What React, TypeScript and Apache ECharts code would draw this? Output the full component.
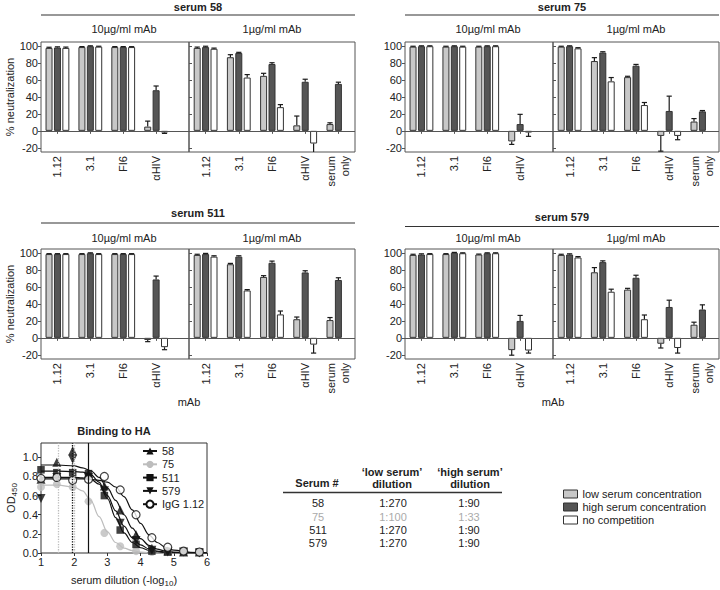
import React, { useEffect, useRef } from 'react';
import * as echarts from 'echarts';

const FONT = '"Liberation Sans", Arial, Helvetica, sans-serif';
const TXT = '#222';

// ---------- neutralization panels ----------
const mAbs10 = ['1.12', '3.1', 'FI6', 'αHIV'];
const mAbs1 = ['1.12', '3.1', 'FI6', 'αHIV', 'serum\nonly'];
const conditions = ['low serum concentration', 'high serum concentration', 'no competition'];
const neutTicks = [-20, 0, 20, 40, 60, 80, 100];

// serum 58
const s58_10_low = [98, 99, 99, 5];
const s58_10_high = [98.5, 100, 99, 48];
const s58_10_none = [98, 99.5, 99, -2];
const s58_10_lowErr = [0.8, 0.6, 0.6, 6.5];
const s58_10_highErr = [0.8, 0.5, 0.6, 5];
const s58_10_noneErr = [1, 0.5, 0.5, 1];
const s58_1_low = [98, 87, 65, 6.5, 8];
const s58_1_high = [99, 92, 79, 58, 55.5];
const s58_1_none = [97, 63, 28, -15, null];
const s58_1_lowErr = [1, 3, 3, 11, 1.5];
const s58_1_highErr = [1, 0.8, 1.5, 3, 2];
const s58_1_noneErr = [0.8, 3.5, 3, 11, null];

// serum 75
const s75_10_low = [99.5, 99.5, 99.5, -12.5];
const s75_10_high = [100, 100, 100, 8];
const s75_10_none = [100, 99.5, 100, -2];
const s75_10_lowErr = [0.5, 0.5, 0.5, 3.5];
const s75_10_highErr = [0.5, 0.5, 0.5, 11.5];
const s75_10_noneErr = [0.5, 0.5, 0.5, 4.5];
const s75_1_low = [99.5, 82.5, 63.5, -6, 11];
const s75_1_high = [100, 92.5, 77, 23.5, 23];
const s75_1_none = [97.5, 58.5, 30.5, -6, null];
const s75_1_lowErr = [0.5, 4, 1, 18, 3.5];
const s75_1_highErr = [0.5, 1, 1.5, 17.5, 1];
const s75_1_noneErr = [0.8, 4.5, 3, 4.5, null];

// serum 511
const s511_10_low = [99, 99, 99, -2.5];
const s511_10_high = [99, 100, 99, 69];
const s511_10_none = [99, 99, 99, -11];
const s511_10_lowErr = [0.5, 0.5, 0.5, 2];
const s511_10_highErr = [0.5, 0.5, 0.5, 4];
const s511_10_noneErr = [0.5, 0.5, 0.5, 3];
const s511_1_low = [98, 87, 72, 22, 21];
const s511_1_high = [99, 96, 88.7, 77.3, 68.4];
const s511_1_none = [96, 56, 27.7, -8, null];
const s511_1_lowErr = [0.8, 1, 1.5, 2.6, 3];
const s511_1_highErr = [0.8, 1, 2, 2, 2.6];
const s511_1_noneErr = [1, 1, 4, 10, null];

// serum 579
const s579_10_low = [98, 99, 98.5, -14.5];
const s579_10_high = [98.5, 100.5, 100, 20];
const s579_10_none = [99, 100, 100, -15];
const s579_10_lowErr = [0.8, 0.5, 0.5, 6];
const s579_10_highErr = [0.8, 0.5, 0.5, 6.5];
const s579_10_noneErr = [0.5, 0.5, 0.5, 3];
const s579_1_low = [98, 77.5, 57, -7, 15.5];
const s579_1_high = [98.5, 89.5, 71, 36.5, 33.5];
const s579_1_none = [95, 54.5, 22, -12, null];
const s579_1_lowErr = [0.8, 5.5, 1.5, 5, 3];
const s579_1_highErr = [0.8, 1.5, 3, 8, 5.5];
const s579_1_noneErr = [1, 3, 5, 6, null];

const panels = [
  { title: 'serum 58', col: 0, row: 0,
    v10: [s58_10_low, s58_10_high, s58_10_none], e10: [s58_10_lowErr, s58_10_highErr, s58_10_noneErr],
    v1: [s58_1_low, s58_1_high, s58_1_none], e1: [s58_1_lowErr, s58_1_highErr, s58_1_noneErr] },
  { title: 'serum 75', col: 1, row: 0,
    v10: [s75_10_low, s75_10_high, s75_10_none], e10: [s75_10_lowErr, s75_10_highErr, s75_10_noneErr],
    v1: [s75_1_low, s75_1_high, s75_1_none], e1: [s75_1_lowErr, s75_1_highErr, s75_1_noneErr] },
  { title: 'serum 511', col: 0, row: 1,
    v10: [s511_10_low, s511_10_high, s511_10_none], e10: [s511_10_lowErr, s511_10_highErr, s511_10_noneErr],
    v1: [s511_1_low, s511_1_high, s511_1_none], e1: [s511_1_lowErr, s511_1_highErr, s511_1_noneErr] },
  { title: 'serum 579', col: 1, row: 1,
    v10: [s579_10_low, s579_10_high, s579_10_none], e10: [s579_10_lowErr, s579_10_highErr, s579_10_noneErr],
    v1: [s579_1_low, s579_1_high, s579_1_none], e1: [s579_1_lowErr, s579_1_highErr, s579_1_noneErr] },
];

// ---------- binding to HA ----------
const dilutionSteps = [10, 30, 90, 270, 810, 2430, 7290, 21870, 65610, 196830, 590490];
const od58 = [0.77, 0.95, 1.07, 0.83, 0.70, 0.45, 0.19, 0.05, 0.02, 0.01, 0.01];
const od75 = [0.69, 0.72, 0.69, 0.54, 0.21, 0.07, 0.02, 0.01, 0.01, 0.01, 0.0];
const od511 = [0.87, 0.84, 0.84, 0.83, 0.60, 0.24, 0.09, 0.02, 0.01, 0.01, 0.01];
const od579 = [0.57, 0.79, 0.98, 0.79, 0.65, 0.31, 0.13, 0.03, 0.01, 0.01, 0.0];
const odIgG = [0.78, 0.79, 0.76, 0.77, 0.80, 0.66, 0.40, 0.16, 0.06, 0.02, 0.01];

const fitX = [1, 1.5, 2, 2.25, 2.5, 2.75, 3, 3.25, 3.5, 3.75, 4, 4.25, 4.5, 4.75, 5, 5.5, 6];
const fit58 = [0.92, 0.92, 0.91, 0.89, 0.86, 0.79, 0.68, 0.55, 0.40, 0.26, 0.15, 0.08, 0.04, 0.02, 0.01, 0.003, 0.0];
const fit75 = [0.71, 0.71, 0.69, 0.65, 0.55, 0.38, 0.22, 0.11, 0.05, 0.025, 0.01, 0.005, 0.002, 0.001, 0, 0, 0];
const fit511 = [0.855, 0.855, 0.85, 0.845, 0.82, 0.74, 0.57, 0.37, 0.21, 0.11, 0.055, 0.027, 0.013, 0.006, 0.003, 0.001, 0];
const fit579 = [0.79, 0.79, 0.79, 0.785, 0.77, 0.72, 0.60, 0.44, 0.28, 0.16, 0.085, 0.043, 0.02, 0.01, 0.005, 0.001, 0];
const fitIgG = [0.775, 0.775, 0.775, 0.775, 0.77, 0.76, 0.74, 0.69, 0.59, 0.45, 0.31, 0.19, 0.11, 0.06, 0.03, 0.008, 0.002];
const odTicks = [0, 0.2, 0.4, 0.6, 0.8, 1.0];

const bindNames = ['58', '75', '511', '579', 'IgG 1.12'];
const bindPoints = [od58, od75, od511, od579, odIgG];
const bindFits = [fit58, fit75, fit511, fit579, fitIgG];

// ---------- table ----------
const tableSerum = ['58', '75', '511', '579'];
const lowDil = [270, 100, 270, 270];
const highDil = [90, 33, 90, 90];

// ---------- styles ----------
const fills = ['#c8c8c8', '#555555', '#ffffff'];
const bindStyles = [
  { symbol: 'triangle', rot: 0, size: 9, item: { color: '#111' }, line: '#111' },
  { symbol: 'circle', rot: 0, size: 8, item: { color: '#bdbdbd' }, line: '#bdbdbd' },
  { symbol: 'rect', rot: 0, size: 7.5, item: { color: '#111' }, line: '#111' },
  { symbol: 'triangle', rot: 180, size: 9, item: { color: '#111' }, line: '#111' },
  { symbol: 'circle', rot: 0, size: 8, item: { color: '#fff', borderColor: '#111', borderWidth: 1.2 }, line: '#111' },
];
const colLeft = [41, 405];
const rowTop = [42, 249];
const titleY = [[7, 7], [213, 217]];
const ruleY = [[15, 15], [223, 226.5]];
const subY = [29, 238];

const BAR_W = 7;
const BAR_STEP = 8.4;

function errorRender(params: any, api: any) {
  const x = api.value(0);
  const v = api.value(1);
  const e = api.value(2);
  const c = api.value(3);
  const p0 = api.coord([x, v]);
  const p1 = api.coord([x, v >= 0 ? v + e : v - e]);
  const dx = (c - 1) * BAR_STEP;
  const cx = p0[0] + dx;
  const st = { stroke: '#1a1a1a', lineWidth: 1.2 };
  return {
    type: 'group',
    children: [
      { type: 'line', shape: { x1: cx, y1: p0[1], x2: cx, y2: p1[1] }, style: st },
      { type: 'line', shape: { x1: cx - 2.6, y1: p1[1], x2: cx + 2.6, y2: p1[1] }, style: st },
    ],
  };
}

const txt = (text: string, x: number, y: number, extra: any = {}) => ({
  type: 'text', x, y, silent: true,
  style: { text, fontSize: 11, fontFamily: FONT, fill: TXT, align: 'center', verticalAlign: 'middle', ...extra },
});
const hline = (x1: number, x2: number, y: number, w = 1, color = '#333') => ({
  type: 'line', silent: true, shape: { x1, y1: y, x2, y2: y }, style: { stroke: color, lineWidth: w },
});

function buildOption() {
  const grid: any[] = [];
  const xAxis: any[] = [];
  const yAxis: any[] = [];
  const series: any[] = [];
  const graphic: any[] = [];

  panels.forEach((p, pi) => {
    const left0 = colLeft[p.col];
    const top = rowTop[p.row];
    graphic.push(txt(p.title, left0 + 157, titleY[p.row][p.col], { fontWeight: 'bold' }));
    graphic.push(hline(left0, left0 + 314, ruleY[p.row][p.col], 1.2));
    graphic.push(txt('10µg/ml mAb', left0 + 83, subY[p.row]));
    graphic.push(txt('1µg/ml mAb', left0 + 231, subY[p.row]));
    if (p.row === 1) graphic.push(txt('mAb', left0 + 148, 402));

    [0, 1].forEach((s) => {
      const gi = pi * 2 + s;
      const labels = s === 0 ? mAbs10 : mAbs1;
      const centers = labels.map((_, i) => i + 0.5);
      const vals = s === 0 ? p.v10 : p.v1;
      const errs = s === 0 ? p.e10 : p.e1;
      grid.push({
        left: s === 0 ? left0 : left0 + 148, top, width: s === 0 ? 148 : 166, height: 110,
        show: true, borderColor: '#555', borderWidth: 1, containLabel: false, outerBoundsMode: 'none',
      });
      xAxis.push({
        gridIndex: gi, type: 'value', min: 0, max: s === 0 ? 4.5 : 5,
        axisLine: { show: false }, splitLine: { show: false },
        axisTick: { show: true, customValues: centers, length: 3, lineStyle: { color: '#555' } },
        axisLabel: {
          customValues: centers, formatter: (v: number) => labels[Math.floor(v)] ?? '',
          rotate: 90, fontSize: 11, lineHeight: 14, margin: 4, color: TXT, fontFamily: FONT,
        },
      });
      yAxis.push({
        gridIndex: gi, type: 'value', min: -25, max: 105,
        axisLine: { show: false }, splitLine: { show: false },
        axisTick: { show: true, inside: s === 1, length: 3, customValues: neutTicks, lineStyle: { color: '#555' } },
        axisLabel: { show: s === 0, customValues: neutTicks, fontSize: 11, margin: 3, color: TXT, fontFamily: FONT },
        name: s === 0 && p.col === 0 ? '% neutralization' : '',
        nameLocation: 'middle', nameGap: 22,
        nameTextStyle: { fontSize: 11, fontFamily: FONT, color: TXT },
      });
      vals.forEach((arr: any[], c: number) => {
        const d: any[] = [];
        arr.forEach((v, i) => { if (v !== null) d.push([i + 0.5, v]); });
        series.push({
          type: 'bar', name: conditions[c], xAxisIndex: gi, yAxisIndex: gi,
          barWidth: BAR_W, barGap: '20%', data: d, silent: true,
          itemStyle: { color: fills[c], borderColor: '#333', borderWidth: 1 },
          markLine: c === 0 ? {
            silent: true, symbol: 'none', label: { show: false },
            lineStyle: { color: '#555', width: 1, type: 'solid' }, data: [{ yAxis: 0 }],
          } : undefined,
        });
      });
      const eb: any[] = [];
      vals.forEach((arr: any[], c: number) => arr.forEach((v, i) => {
        if (v !== null) eb.push([i + 0.5, v, errs[c][i], c]);
      }));
      series.push({
        type: 'custom', xAxisIndex: gi, yAxisIndex: gi, renderItem: errorRender, data: eb,
        encode: { x: 0, y: 1 }, z: 5, silent: true, clip: true,
      });
    });
  });

  // binding chart
  const bi = panels.length * 2;
  grid.push({ left: 41, top: 443, width: 166, height: 110, show: true, borderColor: '#333', borderWidth: 1, containLabel: false, outerBoundsMode: 'none' });
  const rich = {
    n: { fontSize: 11, fontFamily: FONT, color: TXT, lineHeight: 13, verticalAlign: 'top' },
    s: { fontSize: 8, fontFamily: FONT, color: TXT, lineHeight: 8, padding: [6, 0, 0, 0], verticalAlign: 'bottom' },
  };
  xAxis.push({
    gridIndex: bi, type: 'value', min: 1, max: 6, interval: 1,
    axisLine: { show: false }, splitLine: { show: false },
    axisTick: { length: 3, lineStyle: { color: '#333' } },
    axisLabel: { fontSize: 11, margin: 3, color: TXT, fontFamily: FONT },
    name: '{n|serum dilution (-log}{s|10}{n|)}', nameLocation: 'middle', nameGap: 21,
    nameTextStyle: { rich },
  });
  yAxis.push({
    gridIndex: bi, type: 'value', min: 0, max: 1.15,
    axisLine: { show: false }, splitLine: { show: false },
    axisTick: { length: 3, customValues: odTicks, lineStyle: { color: '#333' } },
    axisLabel: { customValues: odTicks, formatter: (v: number) => v.toFixed(1), fontSize: 11, margin: 3, color: TXT, fontFamily: FONT },
    name: '{n|OD}{s|450}', nameLocation: 'middle', nameGap: 16,
    nameTextStyle: { rich },
  });
  bindNames.forEach((name, k) => {
    const st = bindStyles[k];
    series.push({
      type: 'line', name, xAxisIndex: bi, yAxisIndex: bi,
      data: fitX.map((x, i) => [x, bindFits[k][i]]),
      smooth: 0.35, smoothMonotone: 'x', showSymbol: false,
      symbol: st.symbol, symbolSize: st.size, symbolRotate: st.rot,
      itemStyle: st.item, lineStyle: { color: st.line, width: 1.2 }, z: 3, silent: true,
      markLine: k === 0 ? {
        silent: true, symbol: 'none', label: { show: false },
        data: [
          { xAxis: Math.log10(highDil[1]), lineStyle: { color: '#bbb', type: 'dotted', width: 1.3 } },
          { xAxis: Math.log10(lowDil[1]), lineStyle: { color: '#bbb', type: 'dotted', width: 1.3 } },
          { xAxis: Math.log10(highDil[0]), lineStyle: { color: '#111', type: 'dotted', width: 1.3 } },
          { xAxis: Math.log10(lowDil[0]), lineStyle: { color: '#111', type: 'solid', width: 1.2 } },
        ],
      } : undefined,
    });
  });
  bindNames.forEach((name, k) => {
    const st = bindStyles[k];
    series.push({
      type: 'scatter', name, xAxisIndex: bi, yAxisIndex: bi,
      data: dilutionSteps.map((d, i) => [Math.log10(d), bindPoints[k][i]]),
      symbol: st.symbol, symbolSize: st.size, symbolRotate: st.rot,
      itemStyle: st.item, z: 4, silent: true,
    });
  });
  graphic.push(txt('Binding to HA', 114, 431, { fontWeight: 'bold' }));

  // table
  graphic.push(txt('Serum #', 317, 483, { fontWeight: 'bold' }));
  graphic.push(txt('‘low serum’', 392, 471.5, { fontWeight: 'bold' }));
  graphic.push(txt('dilution', 392, 484, { fontWeight: 'bold' }));
  graphic.push(txt('‘high serum’', 470, 471.5, { fontWeight: 'bold' }));
  graphic.push(txt('dilution', 470, 484, { fontWeight: 'bold' }));
  graphic.push(hline(283, 502, 492.5, 1.6, '#333'));
  const rowYs = [503, 516.5, 530, 543];
  tableSerum.forEach((s, i) => {
    const color = s === '75' ? '#aaa' : TXT;
    graphic.push(txt(s, 318, rowYs[i], { fill: color }));
    graphic.push(txt('1:' + lowDil[i], 393, rowYs[i], { fill: color }));
    graphic.push(txt('1:' + highDil[i], 469, rowYs[i], { fill: color }));
  });

  return {
    animation: false,
    backgroundColor: '#fff',
    textStyle: { fontFamily: FONT },
    grid, xAxis, yAxis, series, graphic,
    legend: [
      {
        data: bindNames, orient: 'vertical', left: 142, top: 445.5, padding: 0,
        itemWidth: 14, itemHeight: 9, itemGap: 2.3, selectedMode: false,
        textStyle: { fontSize: 11, fontFamily: FONT, color: TXT },
      },
      {
        data: conditions, orient: 'vertical', left: 563, top: 488.5, padding: 0, icon: 'rect',
        itemWidth: 14, itemHeight: 8, itemGap: 2, selectedMode: false,
        itemStyle: { borderColor: '#333', borderWidth: 1 },
        textStyle: { fontSize: 11, fontFamily: FONT, color: TXT },
      },
    ],
  };
}

export default function App() {
  const ref = useRef<HTMLDivElement>(null);
  useEffect(() => {
    const chart = echarts.init(ref.current!, null, { renderer: 'svg' });
    chart.setOption(buildOption() as any);
    return () => chart.dispose();
  }, []);
  return (
    <div
      ref={ref}
      style={{ position: 'fixed', left: 0, top: 0, width: 720, height: 590, background: '#fff' }}
    />
  );
}
